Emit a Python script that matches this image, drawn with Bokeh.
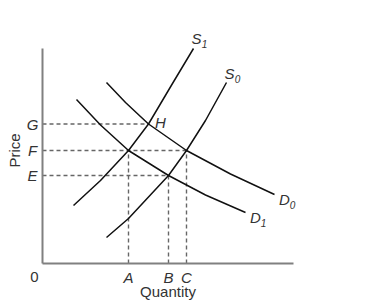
from bokeh.plotting import figure
from bokeh.models import Range1d
from bokeh.core.properties import value
from bokeh.embed import file_html
from bokeh.resources import INLINE

# Data (quantity, price), arbitrary units
s1_q = [31, 58, 86, 106, 130, 151]
s1_p = [58, 83, 113, 139.5, 180, 215]
s0_q = [64, 86, 126, 144, 163, 184]
s0_p = [26, 45, 88, 113, 143, 181]
d0_q = [64, 83, 106, 144, 188, 232]
d0_p = [181, 161, 139.5, 113, 89.5, 69]
d1_q = [34, 58, 86, 126, 163, 203]
d1_p = [164, 138.5, 113, 88, 68.5, 51]

price_labels = ["G", "F", "E"]
price_values = [139.5, 113, 88]
price_qty_end = [106, 144, 126]   # where each dashed price line ends (H, C, B)

qty_labels = ["A", "B", "C"]
qty_values = [86, 126, 144]
qty_price_end = [113, 88, 113]

Q_MAX = 251
P_MAX = 215

FONT = value("Liberation Sans")
TXT = "#333333"

p = figure(width=384, height=307, x_range=Range1d(-42, 342), y_range=Range1d(-44, 263),
           output_backend="svg", toolbar_location=None, min_border=0)
p.axis.visible = False
p.grid.visible = False
p.outline_line_color = None
p.background_fill_color = "white"
p.border_fill_color = "white"

# dashed guide lines
p.segment(x0=[0] * 3, y0=price_values, x1=price_qty_end, y1=price_values,
          line_color="#666666", line_width=1.4, line_dash="4 3")
p.segment(x0=qty_values, y0=[0] * 3, x1=qty_values, y1=qty_price_end,
          line_color="#666666", line_width=1.4, line_dash="4 3")

# axes
p.segment(x0=[0, 0], y0=[0, 0], x1=[0, Q_MAX], y1=[P_MAX, 0],
          line_color="#808080", line_width=2)

# curves
for q, pr in [(s1_q, s1_p), (s0_q, s0_p), (d0_q, d0_p), (d1_q, d1_p)]:
    p.line(q, pr, line_color="#111111", line_width=1.5, line_join="round")

# axis letter labels
p.text(x=[0] * 3, y=price_values, text=price_labels, x_offset=-10, text_align="center",
       text_baseline="middle", text_font=FONT, text_font_style="italic",
       text_font_size="15px", text_color=TXT)
p.text(x=qty_values, y=[0] * 3, text=qty_labels, y_offset=14, text_align="center",
       text_baseline="middle", text_font=FONT, text_font_style="italic",
       text_font_size="15px", text_color=TXT)
p.text(x=[0], y=[0], text=["0"], x_offset=-8, y_offset=13, text_align="center",
       text_baseline="middle", text_font=FONT, text_font_size="15px", text_color=TXT)
p.text(x=[106], y=[139.5], text=["H"], x_offset=12, y_offset=-2, text_align="center",
       text_baseline="middle", text_font=FONT, text_font_style="italic",
       text_font_size="15px", text_color=TXT)

# axis titles
p.text(x=[Q_MAX / 2], y=[0], text=["Quantity"], y_offset=28, text_align="center",
       text_baseline="middle", text_font=FONT, text_font_size="15px", text_color=TXT)
p.text(x=[0], y=[price_values[1]], text=["Price"], x_offset=-28, text_align="center",
       text_baseline="middle", angle=1.5708, text_font=FONT, text_font_size="15px",
       text_color=TXT)

# curve labels
curve_labels = [("S", "1", s1_q[-1], s1_p[-1], 3, -10),
                ("S", "0", s0_q[-1], s0_p[-1], 3, -9),
                ("D", "0", d0_q[-1], d0_p[-1], 10, 5),
                ("D", "1", d1_q[-1], d1_p[-1], 10, 5)]
for main, sub, xq, yp, dx, dy in curve_labels:
    p.text(x=[xq], y=[yp], text=[main], x_offset=dx, y_offset=dy, text_align="center",
           text_baseline="middle", text_font=FONT, text_font_style="italic",
           text_font_size="15px", text_color=TXT)
    p.text(x=[xq], y=[yp], text=[sub], x_offset=dx + 8, y_offset=dy + 5, text_align="center",
           text_baseline="middle", text_font=FONT, text_font_style="italic",
           text_font_size="10px", text_color=TXT)

open("out.html", "w").write(file_html(p, INLINE))
